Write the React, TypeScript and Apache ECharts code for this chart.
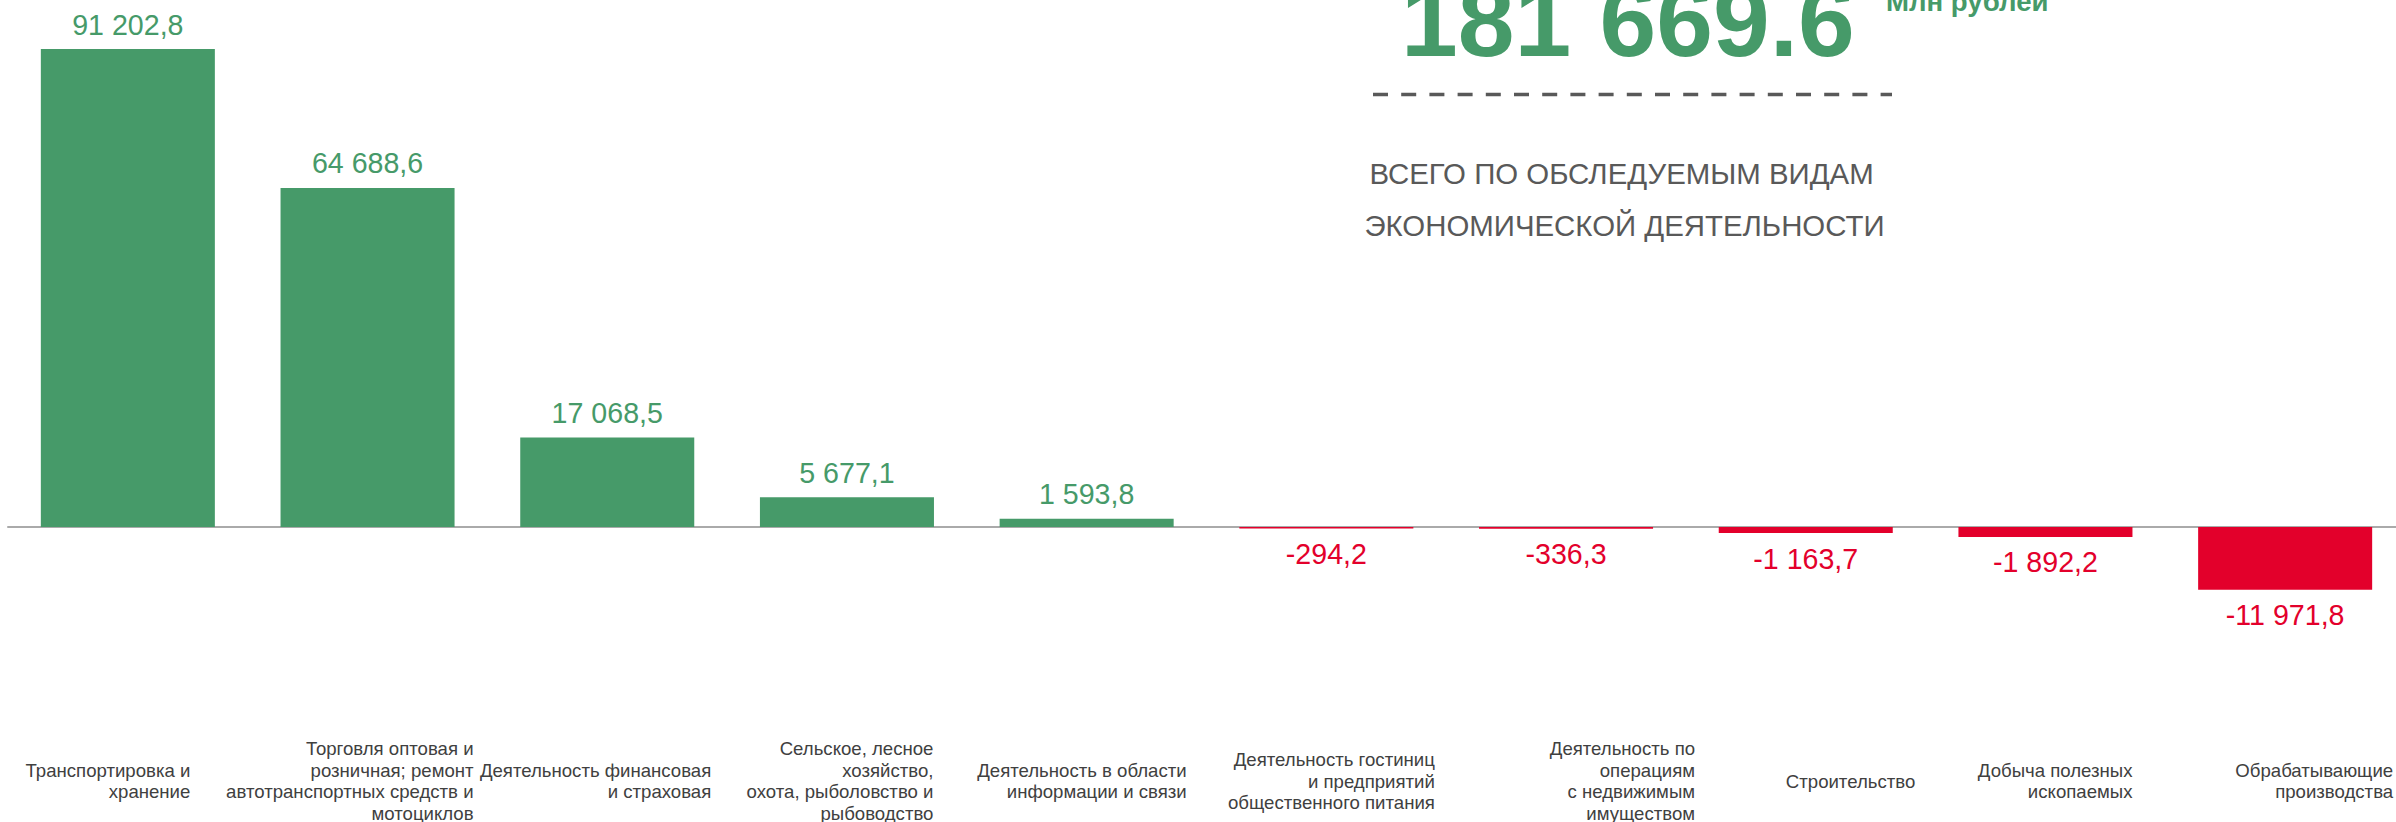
import React, { useEffect, useRef } from "react";
import * as echarts from "echarts";

const categories: string[] = [
  "Транспортировка и\nхранение",
  "Торговля оптовая и\nрозничная; ремонт\nавтотранспортных средств и\nмотоциклов",
  "Деятельность финансовая\nи страховая",
  "Сельское, лесное\nхозяйство,\nохота, рыболовство и\nрыбоводство",
  "Деятельность в области\nинформации и связи",
  "Деятельность гостиниц\nи предприятий\nобщественного питания",
  "Деятельность по\nоперациям\nс недвижимым\nимуществом",
  "Строительство",
  "Добыча полезных\nископаемых",
  "Обрабатывающие\nпроизводства",
];

const values: number[] = [
  91202.8, 64688.6, 17068.5, 5677.1, 1593.8, -294.2, -336.3, -1163.7, -1892.2, -11971.8,
];

const totalValue = "181 669.6";
const totalUnit = "Млн рублей";
const totalCaption: string[] = ["ВСЕГО ПО ОБСЛЕДУЕМЫМ ВИДАМ", "ЭКОНОМИЧЕСКОЙ ДЕЯТЕЛЬНОСТИ"];

// layout: horizontal shift of each category label's right edge from its tick
const labelShift: number[] = [62.5, 106, 104, 86.5, 100, 108.5, 129, 109.5, 87, 108];

const GREEN = "#469A69";
const RED = "#E3002B";
const GREY = "#595959";
const FONT = "Liberation Sans";

const fmt = (v: number): string => {
  const parts = Math.abs(v).toFixed(1).split(".");
  const int = parts[0].replace(/\B(?=(\d{3})+(?!\d))/g, " ");
  return (v < 0 ? "-" : "") + int + "," + parts[1];
};

export default function App() {
  const ref = useRef<HTMLDivElement>(null);
  useEffect(() => {
    if (!ref.current) return;
    const chart = echarts.init(ref.current, undefined, { renderer: "svg" });
    chart.setOption({
      animation: false,
      backgroundColor: "#ffffff",
      grid: { left: 8, width: 2397, top: 2.9, height: 628.9, outerBoundsMode: "none" },
      xAxis: {
        type: "category",
        data: categories,
        axisLine: { show: true, onZero: true, lineStyle: { color: "#AAAAAA", width: 2 } },
        axisTick: { show: false },
        axisLabel: { show: false },
        splitLine: { show: false },
      },
      yAxis: {
        type: "value",
        min: -20000,
        max: 100000,
        show: false,
        splitLine: { show: false },
      },
      series: [
        {
          type: "bar",
          barCategoryGap: "27.4%",
          data: values.map((v) => ({
            value: v,
            itemStyle: { color: v >= 0 ? GREEN : RED },
            label: {
              position: v >= 0 ? "top" : "bottom",
              distance: v >= 0 ? 10 : 11,
              color: v >= 0 ? GREEN : RED,
            },
          })),
          label: {
            show: true,
            fontSize: 28.6,
            fontFamily: FONT,
            formatter: (p: any) => fmt(p.value),
          },
        },
        {
          type: "custom",
          silent: true,
          clip: false,
          data: categories.map((_, i) => [i, 0]),
          encode: { x: 0, y: 1 },
          renderItem: (params: any, api: any) => {
            const i = params.dataIndex;
            const pt = api.coord([i, 0]);
            return {
              type: "text",
              x: pt[0] + labelShift[i],
              y: 781,
              style: {
                text: categories[i],
                align: "right",
                verticalAlign: "middle",
                fontSize: 18.6,
                lineHeight: 21.4,
                fontFamily: FONT,
                fill: "#404040",
              },
            };
          },
        },
      ],
      graphic: [
        {
          type: "text",
          x: 1401,
          y: 21.3,
          style: {
            text: totalValue,
            fontSize: 102,
            fontWeight: "bold",
            fontFamily: FONT,
            fill: GREEN,
            align: "left",
            verticalAlign: "middle",
          },
        },
        {
          type: "text",
          x: 1886,
          y: 1.3,
          style: {
            text: totalUnit,
            fontSize: 27.6,
            fontWeight: "bold",
            fontFamily: FONT,
            fill: GREEN,
            align: "left",
            verticalAlign: "middle",
          },
        },
        {
          type: "line",
          shape: { x1: 1373, y1: 94.5, x2: 1892, y2: 94.5 },
          style: { stroke: GREY, lineWidth: 3.5, lineDash: [15, 13.2] },
        },
        {
          type: "text",
          x: 1621.5,
          y: 173,
          style: {
            text: totalCaption[0],
            fontSize: 29.4,
            fontFamily: FONT,
            fill: GREY,
            align: "center",
            verticalAlign: "middle",
          },
        },
        {
          type: "text",
          x: 1624.5,
          y: 225,
          style: {
            text: totalCaption[1],
            fontSize: 29.4,
            fontFamily: FONT,
            fill: GREY,
            align: "center",
            verticalAlign: "middle",
          },
        },
      ],
    });
    return () => chart.dispose();
  }, []);
  return (
    <div
      ref={ref}
      style={{ position: "fixed", left: 0, top: 0, width: 2396, height: 822, background: "#fff" }}
    />
  );
}
